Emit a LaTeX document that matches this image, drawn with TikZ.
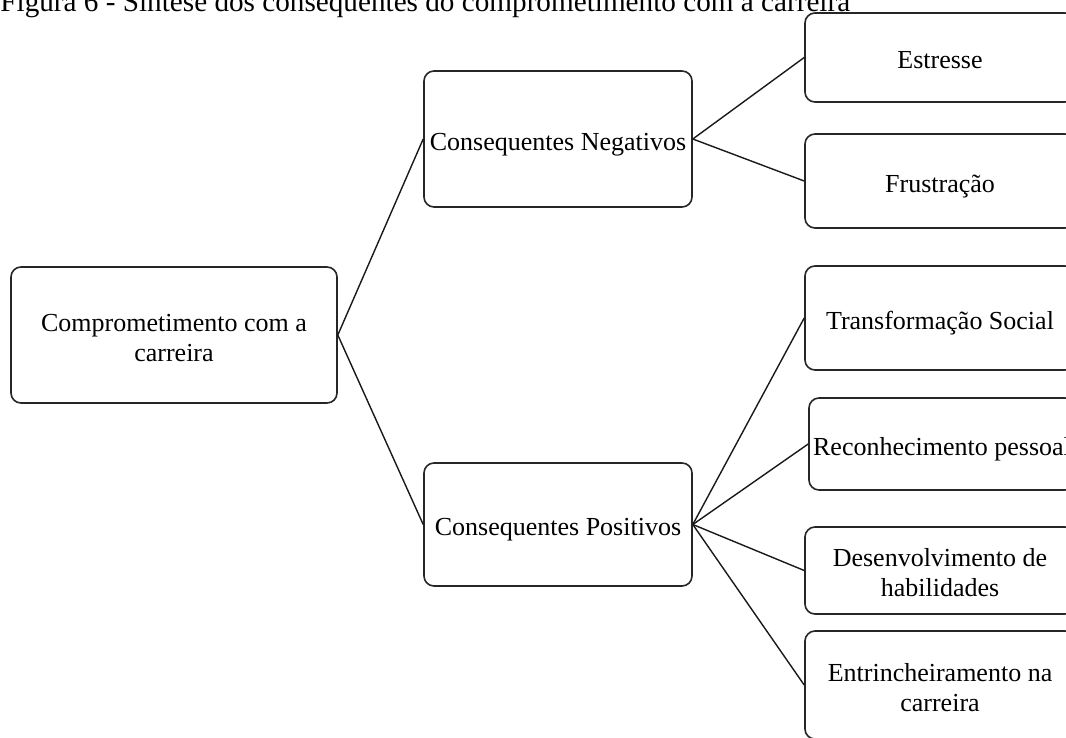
\documentclass[tikz,border=0pt]{standalone}
\usepackage{fontspec}
\setmainfont{Liberation Serif}
\newcommand{\dn}[1]{\raisebox{-2.5pt}[\height][\depth]{\begin{tabular}{@{}c@{}}#1\end{tabular}}}
\begin{document}
\begin{tikzpicture}[x=0.5pt,y=-0.5pt,
  box/.style={draw=black!85, line width=0.8pt, rounded corners=5pt, rectangle,
    inner sep=0pt, font=\fontsize{13}{15}\selectfont},
  link/.style={draw=black!90, line width=0.7pt}]
\useasboundingbox (0,0) rectangle (1066,738);
\node[anchor=base west, inner sep=0pt, font=\fontsize{14.6}{17}\selectfont] (cap) at (0,12)
  {Figura 6 - Síntese dos consequentes do comprometimento com a carreira};
\node[box, minimum width=163pt, minimum height=68pt] (root) at (174,335)
  {\dn{Comprometimento com a\\carreira}};
\node[box, minimum width=134pt, minimum height=68pt] (neg) at (558,139)
  {\dn{Consequentes Negativos}};
\node[box, minimum width=134pt, minimum height=61.5pt] (pos) at (558,524.5)
  {\dn{Consequentes Positivos}};
\node[box, minimum width=135pt, minimum height=44.5pt] (est) at (940,57.5) {\dn{Estresse}};
\node[box, minimum width=135pt, minimum height=47pt] (fru) at (940,181) {\dn{Frustração}};
\node[box, minimum width=135pt, minimum height=52pt] (tra) at (940,318) {\dn{Transformação Social}};
\node[box, minimum width=133pt, minimum height=46pt] (rec) at (942,444) {\dn{Reconhecimento pessoal}};
\node[box, minimum width=135pt, minimum height=43.5pt] (des) at (940,570.5) {\dn{Desenvolvimento de\\habilidades}};
\node[box, minimum width=135pt, minimum height=54pt] (ent) at (940,685) {\dn{Entrincheiramento na\\carreira}};
\draw[link] (root.east) -- (neg.west);
\draw[link] (root.east) -- (pos.west);
\draw[link] (neg.east) -- (est.west);
\draw[link] (neg.east) -- (fru.west);
\draw[link] (pos.east) -- (tra.west);
\draw[link] (pos.east) -- (rec.west);
\draw[link] (pos.east) -- (des.west);
\draw[link] (pos.east) -- (ent.west);
\end{tikzpicture}
\end{document}
